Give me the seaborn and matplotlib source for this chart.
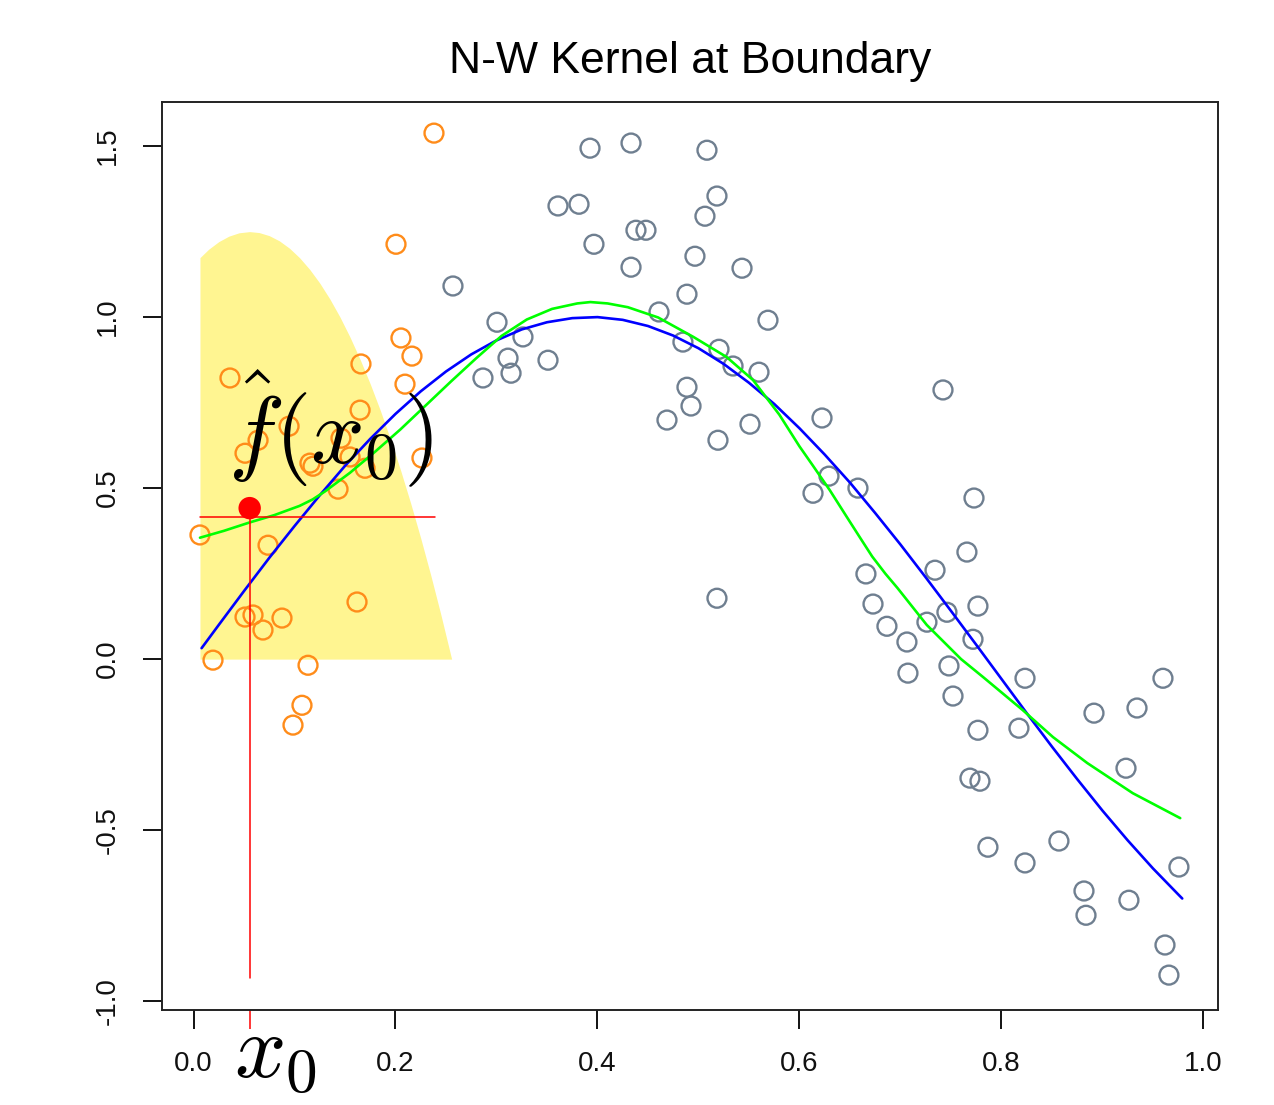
import numpy as np
import pandas as pd
import matplotlib
matplotlib.use("Agg")
import matplotlib.pyplot as plt
import seaborn as sns

# ---------------- data ----------------
orange_x = [0.2381, 0.2005, 0.2054, 0.2163, 0.2094, 0.1658, 0.0361, 0.1649, 0.0946, 0.0639,
            0.0510, 0.1460, 0.1153, 0.1183, 0.1550, 0.1698, 0.2262, 0.1431, 0.0064, 0.0738,
            0.0510, 0.0589, 0.0688, 0.0876, 0.1619, 0.0193, 0.1134, 0.1074, 0.0985]
orange_y = [1.538, 1.213, 0.939, 0.886, 0.804, 0.863, 0.822, 0.728, 0.681, 0.640,
            0.602, 0.646, 0.573, 0.564, 0.591, 0.558, 0.588, 0.497, 0.363, 0.333,
            0.123, 0.129, 0.085, 0.120, 0.167, -0.003, -0.018, -0.135, -0.193]

gray_x = [0.3926, 0.4332, 0.5084, 0.5183, 0.5064, 0.3609, 0.3817, 0.4381, 0.4480, 0.3965,
          0.4332, 0.4965, 0.5431, 0.4886, 0.4609, 0.5688, 0.2569, 0.3005, 0.3262, 0.3114,
          0.3144, 0.2866, 0.3510, 0.4846, 0.5203, 0.5342, 0.5599, 0.4886, 0.4926, 0.4688,
          0.5510, 0.5193, 0.5183, 0.7421, 0.6223, 0.6292, 0.6134, 0.6579, 0.7728, 0.7658,
          0.7342, 0.6658, 0.7767, 0.6728, 0.7460, 0.6866, 0.7262, 0.7064, 0.7718, 0.7074,
          0.7480, 0.7520, 0.8233, 0.9599, 0.9342, 0.8916, 0.7767, 0.8173, 0.9233, 0.7688,
          0.7787, 0.7866, 0.8233, 0.8569, 0.8817, 0.8837, 0.9262, 0.9757, 0.9619, 0.9658]
gray_y = [1.494, 1.509, 1.488, 1.354, 1.295, 1.325, 1.330, 1.254, 1.254, 1.213,
          1.146, 1.178, 1.143, 1.067, 1.015, 0.991, 1.091, 0.985, 0.942, 0.880,
          0.836, 0.822, 0.874, 0.927, 0.906, 0.857, 0.839, 0.795, 0.740, 0.699,
          0.687, 0.640, 0.178, 0.787, 0.705, 0.535, 0.485, 0.500, 0.471, 0.313,
          0.260, 0.249, 0.155, 0.161, 0.137, 0.096, 0.108, 0.050, 0.058, -0.041,
          -0.020, -0.108, -0.056, -0.056, -0.143, -0.158, -0.208, -0.202, -0.319, -0.348,
          -0.357, -0.550, -0.596, -0.532, -0.678, -0.749, -0.705, -0.608, -0.836, -0.924]

# true function (blue)
blue_x = [0.008, 0.025, 0.05, 0.075, 0.1, 0.125, 0.15, 0.175, 0.2, 0.225, 0.25, 0.275,
          0.3, 0.325, 0.35, 0.375, 0.4, 0.425, 0.45, 0.475, 0.5, 0.525, 0.55, 0.575,
          0.6, 0.625, 0.65, 0.675, 0.7, 0.725, 0.75, 0.775, 0.8, 0.825, 0.85, 0.875,
          0.9, 0.925, 0.95, 0.975, 0.979]
blue_y = [0.032, 0.100, 0.199, 0.296, 0.389, 0.479, 0.565, 0.644, 0.717, 0.783, 0.841, 0.891,
          0.932, 0.964, 0.985, 0.997, 1.000, 0.992, 0.974, 0.946, 0.909, 0.863, 0.808, 0.746,
          0.675, 0.598, 0.516, 0.427, 0.335, 0.239, 0.141, 0.042, -0.058, -0.158, -0.256, -0.351,
          -0.443, -0.530, -0.612, -0.688, -0.700]

# N-W kernel fit (green)
green_x = [0.0064, 0.03, 0.056, 0.08, 0.105, 0.118, 0.13, 0.155, 0.18, 0.205, 0.23, 0.255,
           0.28, 0.305, 0.33, 0.355, 0.38, 0.393, 0.41, 0.43, 0.46, 0.495, 0.528, 0.554,
           0.58, 0.60, 0.613, 0.63, 0.647, 0.66, 0.672, 0.685, 0.697, 0.726, 0.76, 0.782,
           0.821, 0.851, 0.885, 0.93, 0.977]
green_y = [0.355, 0.375, 0.400, 0.421, 0.448, 0.467, 0.490, 0.545, 0.607, 0.672, 0.742, 0.812,
           0.880, 0.945, 0.993, 1.024, 1.040, 1.044, 1.040, 1.029, 0.999, 0.942, 0.883, 0.816,
           0.715, 0.622, 0.567, 0.494, 0.415, 0.355, 0.300, 0.250, 0.208, 0.100, 0.000, -0.053,
           -0.149, -0.228, -0.304, -0.392, -0.465]

# kernel weight shape (yellow area)
kern_x = [0.0064, 0.015, 0.025, 0.035, 0.045, 0.0556, 0.065, 0.075, 0.085, 0.095, 0.105,
          0.115, 0.125, 0.135, 0.145, 0.155, 0.165, 0.175, 0.185, 0.195, 0.205, 0.215,
          0.225, 0.235, 0.245, 0.2556]
kern_y = [1.174, 1.1985, 1.2207, 1.2367, 1.2465, 1.250, 1.2472, 1.2382, 1.223, 1.2015, 1.1737,
          1.1397, 1.0995, 1.053, 1.0003, 0.9412, 0.876, 0.8045, 0.7268, 0.6428, 0.5525, 0.456,
          0.3532, 0.2443, 0.129, 0.0]

x0 = 0.0556
fhat_x0 = 0.4415
hline_y = 0.415
hline_x = [0.0064, 0.239]
vline_y = [-0.933, 0.415]

xticks = [0.0, 0.2, 0.4, 0.6, 0.8, 1.0]
xtick_labels = ["0.0", "0.2", "0.4", "0.6", "0.8", "1.0"]
yticks = [-1.0, -0.5, 0.0, 0.5, 1.0, 1.5]
ytick_labels = ["-1.0", "-0.5", "0.0", "0.5", "1.0", "1.5"]
title = "N-W Kernel at Boundary"

# ---------------- style ----------------
sns.set_style("ticks")
plt.rcParams["font.family"] = ["Liberation Sans", "DejaVu Sans"]
plt.rcParams["mathtext.fontset"] = "cm"
plt.rcParams["text.color"] = "black"

ORANGE = "#FF8C1A"
GRAY = "#6F7F90"
BLUE = "#0000FF"
GREEN = "#00FF00"
YELLOW = "#FFF591"
RED = "#FF0000"

fig = plt.figure(figsize=(12.74, 11.05), dpi=100)
ax = fig.add_axes([162 / 1274, 1 - 1010 / 1105, (1218 - 162) / 1274, (1010 - 102) / 1105])

# yellow kernel
ax.fill_between(kern_x, 0, kern_y, color=YELLOW, linewidth=0, zorder=1)

# points
pts_o = pd.DataFrame({"x": orange_x, "y": orange_y})
pts_g = pd.DataFrame({"x": gray_x, "y": gray_y})
for df, col in [(pts_g, GRAY), (pts_o, ORANGE)]:
    sns.scatterplot(data=df, x="x", y="y", ax=ax, s=185, marker="o", zorder=3, legend=False)
    coll = ax.collections[-1]
    coll.set_facecolor("none")
    coll.set_edgecolor(col)
    coll.set_linewidth(1.7)

# curves
sns.lineplot(x=blue_x, y=blue_y, ax=ax, color=BLUE, linewidth=1.9, sort=False,
             estimator=None, zorder=4)
sns.lineplot(x=green_x, y=green_y, ax=ax, color=GREEN, linewidth=1.9, sort=False,
             estimator=None, zorder=4)

# red marks
sns.lineplot(x=hline_x, y=[hline_y, hline_y], ax=ax, color=RED, linewidth=1.1,
             estimator=None, zorder=5)
sns.lineplot(x=[x0, x0], y=vline_y, ax=ax, color=RED, linewidth=1.1, sort=False,
             estimator=None, zorder=5)
sns.scatterplot(x=[x0], y=[fhat_x0], ax=ax, color=RED, s=260, edgecolor="none",
                zorder=6, legend=False)

# labels
ax.text(0.034, 0.573, r"$\hat{f}(x_0)$", fontsize=68, ha="left", va="baseline",
        color="black", zorder=7)
ax.text(0.040, -0.0738, r"$x_0$", fontsize=65, ha="left", va="baseline",
        transform=ax.get_xaxis_transform(), color="black", clip_on=False)

# axes
ax.set_xlim(-0.0312, 1.0144)
ax.set_ylim(-1.026, 1.629)
ax.set_xticks(xticks)
ax.set_xticklabels(xtick_labels)
ax.set_yticks(yticks)
ax.set_yticklabels(ytick_labels, rotation=90, va="center")
ax.set_xticks([x0], minor=True)
ax.tick_params(axis="both", which="major", length=13.7, width=1.3, color="black",
               labelsize=20, labelcolor="#111111")
ax.tick_params(axis="x", which="major", pad=16)
ax.tick_params(axis="y", which="major", pad=16)
ax.tick_params(axis="x", which="minor", length=13.7, width=1.1, color=RED)
ax.set_xlabel("")
ax.set_ylabel("")
for sp in ax.spines.values():
    sp.set_visible(True)
    sp.set_color("#222222")
    sp.set_linewidth(1.4)

ax.set_title(title, fontsize=32, pad=21, color="black")

fig.savefig("out.png", dpi=100, facecolor="white")
